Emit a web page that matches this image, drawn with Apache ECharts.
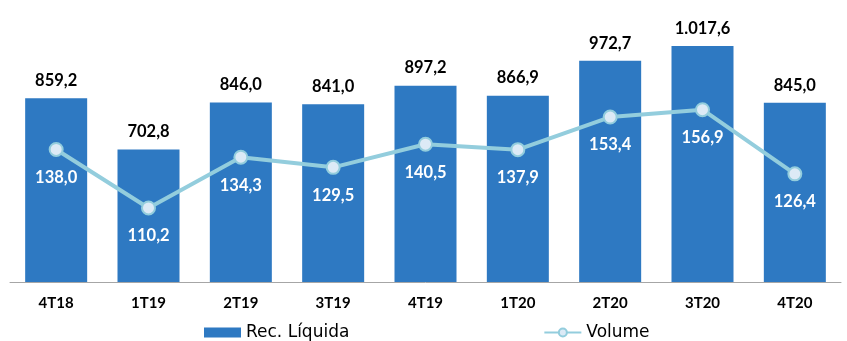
<!DOCTYPE html>
<html><head><meta charset="utf-8">
<script src="https://cdn.jsdelivr.net/npm/echarts@6/dist/echarts.min.js"></script>
<style>html,body{margin:0;padding:0;background:#fff}#c{width:847px;height:341px}</style>
</head><body><div id="c"></div>
<script>
const categories = ['4T18','1T19','2T19','3T19','4T19','1T20','2T20','3T20','4T20'];
const recLiquida = [859.2, 702.8, 846.0, 841.0, 897.2, 866.9, 972.7, 1017.6, 845.0];
const volume = [138.0, 110.2, 134.3, 129.5, 140.5, 137.9, 153.4, 156.9, 126.4];
const fmt = v => {
  const s = v.toFixed(1).split('.');
  const i = s[0].replace(/\B(?=(\d{3})+(?!\d))/g, '.');
  return i + ',' + s[1];
};
const FONT = 'Lato';
const chart = echarts.init(document.getElementById('c'));
chart.setOption({
  animation: false,
  grid: {left: 10, right: 6, top: 19, bottom: 59, containLabel: false},
  legend: {
    top: 319, left: 199, itemGap: 194, itemWidth: 37, itemHeight: 10,
    textStyle: {fontFamily: 'DejaVu Sans', fontSize: 17, color: '#000'},
    data: [{name: 'Rec. Líquida', icon: 'rect'}, {name: 'Volume'}]
  },
  xAxis: {
    type: 'category', data: categories,
    axisTick: {show: false},
    axisLine: {lineStyle: {color: '#a6a6a6', width: 1}},
    axisLabel: {fontFamily: FONT, fontWeight: 'bold', fontSize: 15, color: '#000', margin: 14}
  },
  yAxis: [
    {type: 'value', min: 300, max: 1100, show: false, splitLine: {show: false}},
    {type: 'value', min: 75, max: 200, show: false, splitLine: {show: false}}
  ],
  series: [
    {
      name: 'Rec. Líquida', type: 'bar', data: recLiquida, barWidth: 62,
      itemStyle: {color: '#2e79c2'},
      label: {show: true, position: 'top', distance: 9, formatter: p => fmt(p.value),
        fontFamily: FONT, fontWeight: 'bold', fontSize: 16.5, color: '#000'}
    },
    {
      name: 'Volume', type: 'line', yAxisIndex: 1, data: volume,
      lineStyle: {color: '#93cddd', width: 4},
      itemStyle: {color: '#dceaf6', borderColor: '#93cddd', borderWidth: 2},
      symbol: 'circle', symbolSize: 13,
      label: {show: true, position: 'bottom', distance: 12, formatter: p => fmt(p.value),
        fontFamily: FONT, fontWeight: 'bold', fontSize: 16.5, color: '#fff'}
    }
  ]
});
</script></body></html>
